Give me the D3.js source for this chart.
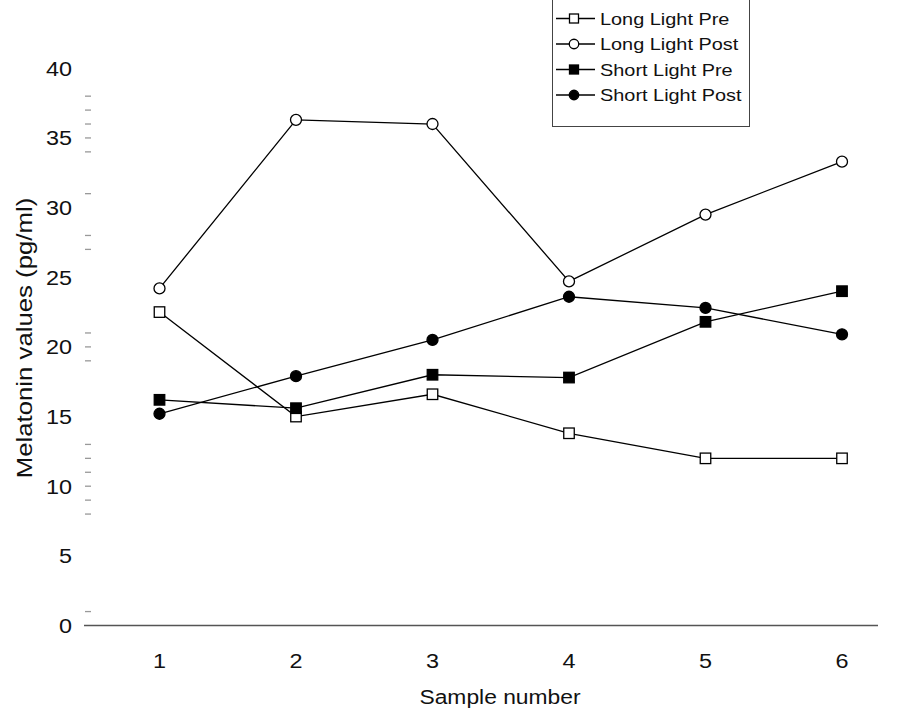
<!DOCTYPE html>
<html>
<head>
<meta charset="utf-8">
<script src="https://cdn.jsdelivr.net/npm/d3@7"></script>
<style>
  body { margin: 0; background: #fff; }
  text { font-family: "Liberation Sans", Arial, sans-serif; fill: #111; }
</style>
</head>
<body>
<div id="chart"></div>
<script>
"use strict";

// data
var samples = [1, 2, 3, 4, 5, 6];
var longLightPre = [22.5, 15.0, 16.6, 13.8, 12.0, 12.0];
var longLightPost = [24.2, 36.3, 36.0, 24.7, 29.5, 33.3];
var shortLightPre = [16.2, 15.6, 18.0, 17.8, 21.8, 24.0];
var shortLightPost = [15.2, 17.9, 20.5, 23.6, 22.8, 20.9];
var yTicks = [0, 5, 10, 15, 20, 25, 30, 35, 40];
var yMinorTicks = [1, 8, 9, 10, 11, 12, 13, 19, 20, 21, 27, 28, 31, 34, 35, 36, 37, 38];
var seriesNames = ["Long Light Pre", "Long Light Post", "Short Light Pre", "Short Light Post"];

var series = [
  { name: seriesNames[0], values: longLightPre, shape: "square", filled: false },
  { name: seriesNames[1], values: longLightPost, shape: "circle", filled: false },
  { name: seriesNames[2], values: shortLightPre, shape: "square", filled: true },
  { name: seriesNames[3], values: shortLightPost, shape: "circle", filled: true }
];

var width = 898, height = 714;
var stretch = 1.17; // glyphs in the picture run wider than Arial

var svg = d3.select("#chart").append("svg")
  .attr("width", width)
  .attr("height", height);

var x = d3.scaleLinear().domain([1, 6]).range([159.5, 842]);
var y = d3.scaleLinear().domain([0, 40]).range([625.5, 68.3]);

// widen a text element horizontally
function widen(sel) {
  sel.each(function() {
    var len = this.getComputedTextLength();
    d3.select(this)
      .attr("textLength", len * stretch)
      .attr("lengthAdjust", "spacingAndGlyphs");
  });
}

//Axes
svg.append("line")
  .attr("x1", 84).attr("x2", 878)
  .attr("y1", y(0)).attr("y2", y(0))
  .attr("stroke", "#555")
  .attr("stroke-width", 1.5);

svg.selectAll(".minor").data(yMinorTicks).enter().append("line")
  .attr("class", "minor")
  .attr("x1", 85).attr("x2", 91)
  .attr("y1", function(d) { return y(d); })
  .attr("y2", function(d) { return y(d); })
  .attr("stroke", "#999")
  .attr("stroke-width", 1.3);

svg.selectAll(".ytick").data(yTicks).enter().append("text")
  .attr("class", "ytick")
  .attr("x", 72)
  .attr("y", function(d) { return y(d) + 7.5; })
  .attr("text-anchor", "end")
  .attr("font-size", "20px")
  .text(function(d) { return d; })
  .call(widen);

svg.selectAll(".xtick").data(samples).enter().append("text")
  .attr("class", "xtick")
  .attr("x", function(d) { return x(d); })
  .attr("y", 668)
  .attr("text-anchor", "middle")
  .attr("font-size", "20px")
  .text(function(d) { return d; })
  .call(widen);

svg.append("text")
  .attr("x", 500)
  .attr("y", 704)
  .attr("text-anchor", "middle")
  .attr("font-size", "19.5px")
  .text("Sample number")
  .call(widen);

svg.append("text")
  .attr("transform", "translate(32,338) rotate(-90)")
  .attr("text-anchor", "middle")
  .attr("font-size", "22px")
  .text("Melatonin values (pg/ml)")
  .call(widen);

//Markers
function drawMarker(g, shape, filled, cx, cy, size) {
  if (shape === "square") {
    g.append("rect")
      .attr("x", cx - size / 2)
      .attr("y", cy - size / 2)
      .attr("width", size)
      .attr("height", size)
      .attr("fill", filled ? "#000" : "#fff")
      .attr("stroke", "#000")
      .attr("stroke-width", 1.3);
  } else {
    g.append("circle")
      .attr("cx", cx)
      .attr("cy", cy)
      .attr("r", size / 2)
      .attr("fill", filled ? "#000" : "#fff")
      .attr("stroke", "#000")
      .attr("stroke-width", 1.3);
  }
}

//Lines
var line = d3.line()
  .x(function(d, i) { return x(samples[i]); })
  .y(function(d) { return y(d); });

series.forEach(function(s) {
  var g = svg.append("g");
  g.append("path")
    .attr("d", line(s.values))
    .attr("fill", "none")
    .attr("stroke", "#000")
    .attr("stroke-width", 1.3);
  s.values.forEach(function(v, i) {
    drawMarker(g, s.shape, s.filled, x(samples[i]), y(v), s.shape === "square" ? 10.5 : 11);
  });
});

//Legend
var legend = svg.append("g");
legend.append("rect")
  .attr("x", 552.5).attr("y", -2)
  .attr("width", 197).attr("height", 128.5)
  .attr("fill", "#fff")
  .attr("stroke", "#444")
  .attr("stroke-width", 1);

series.forEach(function(s, i) {
  var ly = 18.5 + i * 25.5;
  legend.append("line")
    .attr("x1", 556).attr("x2", 595)
    .attr("y1", ly).attr("y2", ly)
    .attr("stroke", "#000")
    .attr("stroke-width", 1.3);
  drawMarker(legend, s.shape, s.filled, 574, ly, s.shape === "square" ? 9 : 9.5);
  legend.append("text")
    .attr("x", 600)
    .attr("y", ly + 6)
    .attr("font-size", "17px")
    .text(s.name)
    .call(widen);
});
</script>
</body>
</html>
